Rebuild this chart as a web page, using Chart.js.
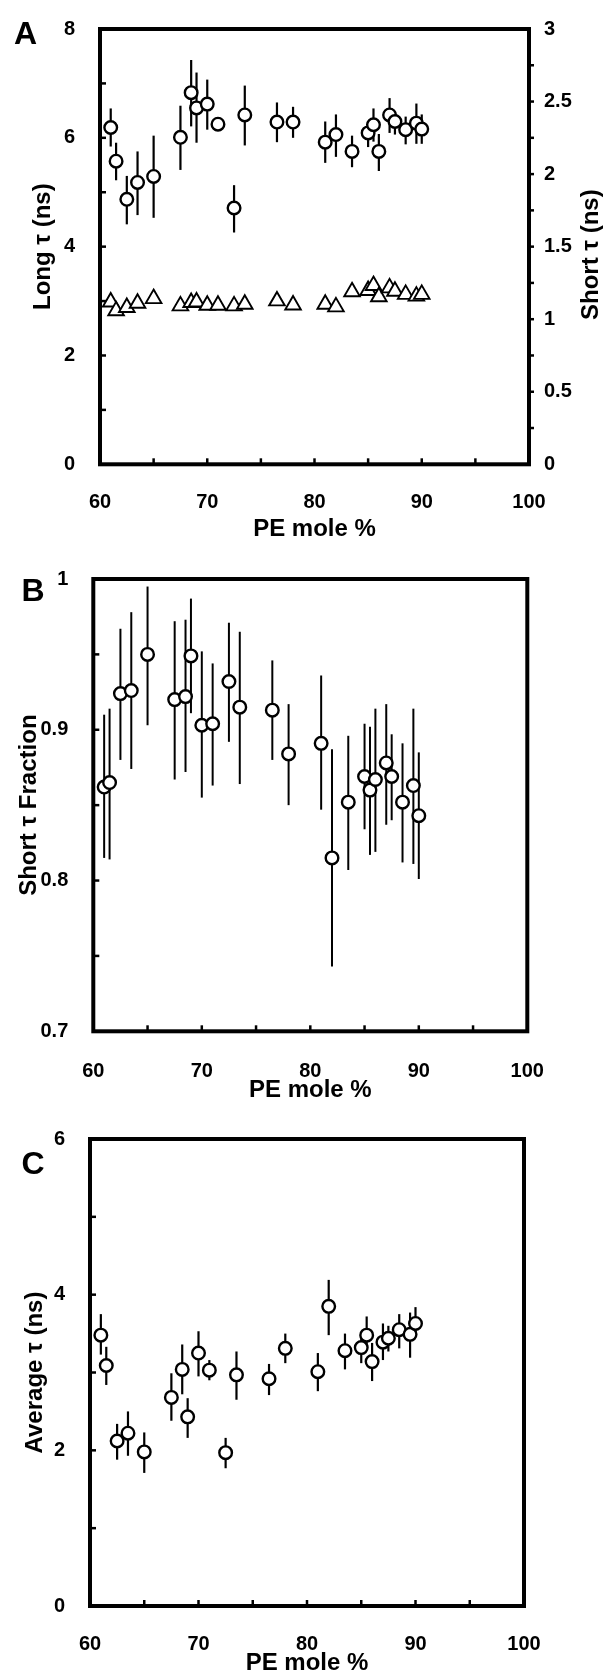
<!DOCTYPE html>
<html>
<head>
<meta charset="utf-8">
<script src="https://cdn.jsdelivr.net/npm/chart.js@4.4.1/dist/chart.umd.min.js"></script>
<style>
  html, body { margin: 0; padding: 0; background: #fff; }
  body { width: 610px; height: 1676px; position: relative; overflow: hidden; }
  .panel { position: absolute; left: 0; width: 610px; }
  canvas { display: block; }
</style>
</head>
<body>
<div class="panel" style="top:0px;height:550px"><canvas id="chartA" width="610" height="550"></canvas></div>
<div class="panel" style="top:550px;height:560px"><canvas id="chartB" width="610" height="560"></canvas></div>
<div class="panel" style="top:1110px;height:580px"><canvas id="chartC" width="610" height="580"></canvas></div>
<script>
// ---------------- DATA ----------------
const peMole = [61, 61.5, 62.5, 63.5, 65, 67.5, 68.5, 69, 70, 71, 72.5, 73.5, 76.5, 78, 81, 82, 83.5, 85, 85.5, 86, 87, 87.5, 88.5, 89.5, 90];

// Panel A: long lifetime (left axis) and short lifetime (right axis)
const longTau     = [6.19, 5.57, 4.87, 5.18, 5.29, 6.01, 6.83, 6.55, 6.62, 6.25, 4.71, 6.42, 6.29, 6.29, 5.92, 6.06, 5.75, 6.09, 6.24, 5.75, 6.42, 6.30, 6.15, 6.27, 6.16];
const longTauHigh = [6.54, 5.91, 5.30, 5.75, 6.04, 6.59, 7.43, 7.20, 7.07, 6.30, 5.13, 6.96, 6.65, 6.57, 6.30, 6.43, 6.04, 6.24, 6.54, 6.07, 6.73, 6.42, 6.39, 6.63, 6.43];
const longTauLow  = [5.84, 5.22, 4.41, 4.58, 4.53, 5.41, 6.21, 5.91, 6.15, 6.20, 4.26, 5.86, 5.92, 6.00, 5.54, 5.65, 5.46, 5.83, 5.93, 5.39, 6.09, 6.06, 5.88, 5.89, 5.89];
const shortTau    = [1.119, 1.058, 1.081, 1.110, 1.142, 1.092, 1.115, 1.119, 1.096, 1.096, 1.092, 1.103, 1.126, 1.098, 1.103, 1.085, 1.189, 1.198, 1.232, 1.155, 1.216, 1.193, 1.171, 1.159, 1.171];

// Panel B: short lifetime fraction
const shortFrac     = [0.862, 0.865, 0.924, 0.926, 0.950, 0.920, 0.922, 0.949, 0.903, 0.904, 0.932, 0.915, 0.913, 0.884, 0.891, 0.815, 0.852, 0.869, 0.860, 0.867, 0.878, 0.869, 0.852, 0.863, 0.843];
const shortFracHigh = [0.910, 0.914, 0.967, 0.978, 0.995, 0.972, 0.973, 0.987, 0.952, 0.944, 0.971, 0.965, 0.946, 0.917, 0.936, 0.887, 0.896, 0.904, 0.902, 0.914, 0.917, 0.897, 0.891, 0.914, 0.885];
const shortFracLow  = [0.815, 0.814, 0.880, 0.874, 0.903, 0.867, 0.872, 0.911, 0.855, 0.863, 0.892, 0.864, 0.880, 0.850, 0.847, 0.743, 0.807, 0.834, 0.817, 0.819, 0.837, 0.840, 0.812, 0.811, 0.801];

// Panel C: average lifetime
const avgTau     = [3.48, 3.09, 2.12, 2.22, 1.98, 2.68, 3.04, 2.43, 3.25, 3.03, 1.97, 2.97, 2.92, 3.31, 3.01, 3.85, 3.28, 3.32, 3.48, 3.14, 3.39, 3.44, 3.55, 3.49, 3.63];
const avgTauHigh = [3.75, 3.33, 2.34, 2.50, 2.23, 2.99, 3.36, 2.67, 3.53, 3.16, 2.16, 3.27, 3.11, 3.50, 3.25, 4.19, 3.50, 3.44, 3.72, 3.38, 3.63, 3.60, 3.75, 3.77, 3.84];
const avgTauLow  = [3.23, 2.84, 1.88, 1.93, 1.71, 2.38, 2.72, 2.16, 2.95, 2.90, 1.77, 2.65, 2.71, 3.12, 2.76, 3.48, 3.04, 3.12, 3.36, 2.89, 3.16, 3.27, 3.31, 3.19, 3.48];

// Tick labels
const xTickLabels   = [60, 70, 80, 90, 100];
const xMinorTicks   = [65, 70, 75, 80, 85, 90, 95];
const aLeftTicks    = [0, 2, 4, 6, 8];
const aLeftMarks    = [1, 2, 3, 4, 5, 6, 7];
const aRightTicks   = [0, 0.5, 1, 1.5, 2, 2.5, 3];
const aRightMarks   = [0.25, 0.5, 0.75, 1, 1.25, 1.5, 1.75, 2, 2.25, 2.5, 2.75];
const bTicks        = [0.7, 0.8, 0.9, 1];
const bMarks        = [0.75, 0.8, 0.85, 0.9, 0.95];
const cTicks        = [0, 2, 4, 6];
const cMarks        = [1, 2, 3, 4, 5];

// ---------------- HELPERS ----------------
const FONT = "'Liberation Sans', Arial, Helvetica, sans-serif";
const toPts = (xs, ys) => xs.map((x, i) => ({ x: x, y: ys[i] }));

const panelPlugin = {
  id: 'panel',
  beforeDatasetsDraw(chart) {
    const ctx = chart.ctx;
    ctx.save();
    ctx.strokeStyle = '#000';
    ctx.lineCap = 'butt';
    chart.data.datasets.forEach(ds => {
      if (!ds.errHigh) return;
      const xs = chart.scales.x;
      const ys = chart.scales[ds.yAxisID || 'y'];
      ctx.lineWidth = ds.errWidth || 2;
      ds.data.forEach((p, i) => {
        const px = xs.getPixelForValue(p.x);
        ctx.beginPath();
        ctx.moveTo(px, ys.getPixelForValue(ds.errHigh[i]));
        ctx.lineTo(px, ys.getPixelForValue(ds.errLow[i]));
        ctx.stroke();
      });
    });
    ctx.restore();
  },
  afterDraw(chart, args, opts) {
    const ctx = chart.ctx;
    const a = chart.chartArea;
    ctx.save();
    ctx.strokeStyle = '#000';
    ctx.fillStyle = '#000';
    // frame
    ctx.lineWidth = 4;
    ctx.strokeRect(a.left, a.top, a.right - a.left, a.bottom - a.top);
    // tick marks
    ctx.lineWidth = 2.5;
    const xs = chart.scales.x;
    (opts.xMarks || []).forEach(v => {
      const px = xs.getPixelForValue(v);
      ctx.beginPath(); ctx.moveTo(px, a.bottom); ctx.lineTo(px, a.bottom - 6); ctx.stroke();
    });
    const ys = chart.scales.y;
    (opts.yMarks || []).forEach(v => {
      const py = ys.getPixelForValue(v);
      ctx.beginPath(); ctx.moveTo(a.left, py); ctx.lineTo(a.left + 6, py); ctx.stroke();
    });
    if (chart.scales.y2) {
      const y2 = chart.scales.y2;
      (opts.y2Marks || []).forEach(v => {
        const py = y2.getPixelForValue(v);
        ctx.beginPath(); ctx.moveTo(a.right, py); ctx.lineTo(a.right + 5, py); ctx.stroke();
      });
    }
    // panel letter
    if (opts.letter) {
      ctx.font = 'bold 32px ' + FONT;
      ctx.textAlign = 'center';
      ctx.textBaseline = 'middle';
      ctx.fillText(opts.letter, opts.letterX, opts.letterY);
    }
    // right axis title (reads bottom to top)
    if (opts.rightTitle) {
      ctx.font = 'bold 24px ' + FONT;
      ctx.textAlign = 'center';
      ctx.textBaseline = 'middle';
      ctx.translate(opts.rightTitleX, (a.top + a.bottom) / 2 + 8);
      ctx.rotate(-Math.PI / 2);
      ctx.fillText(opts.rightTitle, 0, 0);
    }
    ctx.restore();
  }
};

function xScale(height, tickPad, titlePad) {
  return {
    type: 'linear', min: 60, max: 100,
    afterBuildTicks: s => { s.ticks = xTickLabels.map(v => ({ value: v })); },
    afterFit: s => { s.height = height; },
    grid: { display: false }, border: { display: false },
    ticks: { color: '#000', padding: tickPad, font: { family: FONT, size: 20, weight: 'bold' }, callback: v => String(v), maxRotation: 0 },
    title: { display: true, text: 'PE mole %', color: '#000', padding: { top: 0, bottom: titlePad }, font: { family: FONT, size: 24, weight: 'bold' } }
  };
}
function yScale(min, max, ticks, width, title, titlePad, position) {
  return {
    type: 'linear', min: min, max: max, position: position || 'left',
    afterBuildTicks: s => { s.ticks = ticks.map(v => ({ value: v })); },
    afterFit: s => { s.width = width; },
    grid: { display: false }, border: { display: false },
    ticks: { color: '#000', padding: position === 'right' ? 7 : 17, font: { family: FONT, size: 20, weight: 'bold' }, callback: v => String(v) },
    title: { display: !!title, text: title || '', color: '#000', padding: { top: titlePad, bottom: 0 }, font: { family: FONT, size: 24, weight: 'bold' } }
  };
}
const circleStyle = { pointStyle: 'circle', pointRadius: 6.3, pointBorderWidth: 2.4, pointBackgroundColor: '#fff', pointBorderColor: '#000', showLine: false };
const baseOpts = { responsive: false, animation: false, events: [], plugins: { legend: { display: false }, tooltip: { enabled: false } } };

// ---------------- PANEL A ----------------
new Chart(document.getElementById('chartA'), {
  type: 'scatter',
  data: { datasets: [
    Object.assign({ label: 'Short τ', data: toPts(peMole, shortTau), yAxisID: 'y2' }, circleStyle, { pointStyle: 'triangle', pointRadius: 9, pointBorderWidth: 1.9 }),
    Object.assign({ label: 'Long τ', data: toPts(peMole, longTau), yAxisID: 'y', errHigh: longTauHigh, errLow: longTauLow, errWidth: 2.2 }, circleStyle)
  ] },
  options: Object.assign({}, baseOpts, {
    layout: { padding: { top: 22.7, left: 0, right: 0, bottom: 0 } },
    scales: {
      x: xScale(85.7, 17.7, 6.6),
      y: yScale(0, 8, aLeftTicks, 100, 'Long τ (ns)', 28.6, 'left'),
      y2: yScale(0, 3, aRightTicks, 81, '', 0, 'right')
    },
    plugins: Object.assign({}, baseOpts.plugins, {
      panel: { xMarks: xMinorTicks, yMarks: aLeftMarks, y2Marks: aRightMarks, letter: 'A', letterX: 25.5, letterY: 35, rightTitle: 'Short τ (ns)', rightTitleX: 591 }
    })
  }),
  plugins: [panelPlugin]
});

// ---------------- PANEL B ----------------
new Chart(document.getElementById('chartB'), {
  type: 'scatter',
  data: { datasets: [
    Object.assign({ label: 'Short τ Fraction', data: toPts(peMole, shortFrac), errHigh: shortFracHigh, errLow: shortFracLow, errWidth: 2 }, circleStyle)
  ] },
  options: Object.assign({}, baseOpts, {
    layout: { padding: { top: 23.3, left: 0, right: 82.7, bottom: 0 } },
    scales: {
      x: xScale(78.7, 20, 5.6),
      y: yScale(0.7, 1, bTicks, 93.3, 'Short τ Fraction', 14.6, 'left')
    },
    plugins: Object.assign({}, baseOpts.plugins, {
      panel: { xMarks: xMinorTicks, yMarks: bMarks, letter: 'B', letterX: 33, letterY: 42 }
    })
  }),
  plugins: [panelPlugin]
});

// ---------------- PANEL C ----------------
new Chart(document.getElementById('chartC'), {
  type: 'scatter',
  data: { datasets: [
    Object.assign({ label: 'Average τ', data: toPts(peMole, avgTau), errHigh: avgTauHigh, errLow: avgTauLow, errWidth: 2.2 }, circleStyle)
  ] },
  options: Object.assign({}, baseOpts, {
    layout: { padding: { top: 26, left: 0, right: 86, bottom: 0 } },
    scales: {
      x: xScale(84, 18.6, 12.6),
      y: yScale(0, 6, cTicks, 90, 'Average τ (ns)', 21, 'left')
    },
    plugins: Object.assign({}, baseOpts.plugins, {
      panel: { xMarks: xMinorTicks, yMarks: cMarks, letter: 'C', letterX: 33, letterY: 55 }
    })
  }),
  plugins: [panelPlugin]
});
</script>
</body>
</html>
